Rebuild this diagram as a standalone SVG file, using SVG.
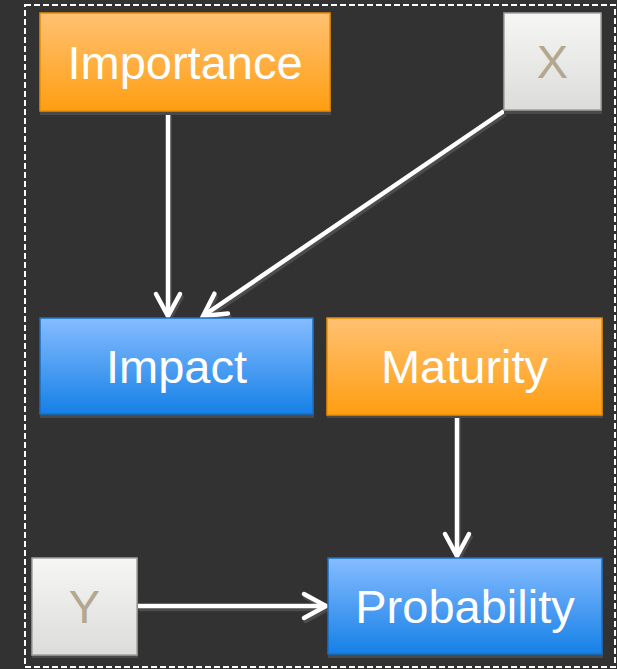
<svg xmlns="http://www.w3.org/2000/svg" width="617" height="669" viewBox="0 0 617 669">
<defs>
<linearGradient id="gOr" x1="0" y1="0" x2="0" y2="1"><stop offset="0" stop-color="#ffc172"/><stop offset="1" stop-color="#ff9e12"/></linearGradient>
<linearGradient id="gBl" x1="0" y1="0" x2="0" y2="1"><stop offset="0" stop-color="#86bcff"/><stop offset="1" stop-color="#1580e6"/></linearGradient>
<linearGradient id="gGr" x1="0" y1="0" x2="0" y2="1"><stop offset="0" stop-color="#f6f6f4"/><stop offset="1" stop-color="#dcdcda"/></linearGradient>
<marker id="mW" markerUnits="userSpaceOnUse" orient="auto" refX="0" refY="0" markerWidth="30" markerHeight="30" viewBox="-24 -15 30 30" overflow="visible"><path d="M-22,-12 L0,0 L-22,12" fill="none" stroke="#ffffff" stroke-width="4.5" stroke-linecap="round" stroke-linejoin="miter"/></marker>
<marker id="mS" markerUnits="userSpaceOnUse" orient="auto" refX="0" refY="0" markerWidth="30" markerHeight="30" viewBox="-24 -15 30 30" overflow="visible"><path d="M-22,-12 L0,0 L-22,12" fill="none" stroke="#4c4c4c" stroke-width="4.5" stroke-linecap="round" stroke-linejoin="miter"/></marker>
</defs>
<style>
.sh{fill:#4a4a4a}
.or{fill:url(#gOr);stroke:#ec8c00;stroke-width:1.5}
.bl{fill:url(#gBl);stroke:#1a6dc4;stroke-width:1.5}
.gr{fill:url(#gGr);stroke:#a2a2a0;stroke-width:1.5}
.t{font-family:"Liberation Sans",Arial,sans-serif;font-size:47px;text-anchor:middle;fill:#ffffff}
.tg{fill:#b3a78f}
.ln{fill:none;stroke:#ffffff;stroke-width:4.5;marker-end:url(#mW)}
.lns{fill:none;stroke:#4c4c4c;stroke-width:4.5;marker-end:url(#mS)}
</style>
<rect x="0" y="0" width="617" height="669" fill="#323232"/>
<rect x="25" y="5" width="590" height="662" fill="none" stroke="#ffffff" stroke-width="2" stroke-dasharray="6 3"/>
<g id="connectors">
<g transform="translate(1.5,3)">
<path class="lns" d="M168,111 L168,316"/>
<path class="lns" d="M504,111 L203,316"/>
<path class="lns" d="M457,415 L457,556"/>
<path class="lns" d="M137,606 L326,606"/>
</g>
<path class="ln" d="M168,111 L168,316"/>
<path class="ln" d="M504,111 L203,316"/>
<path class="ln" d="M457,415 L457,556"/>
<path class="ln" d="M137,606 L326,606"/>
</g>
<g id="importance"><rect class="sh" x="40" y="14" width="291" height="101"/><rect class="or" x="40" y="13" width="290" height="98"/><text class="t" x="185" y="79">Importance</text></g>
<g id="x"><rect class="sh" x="504" y="14" width="98" height="100"/><rect class="gr" x="504" y="13" width="97" height="97"/><text class="t tg" x="552.5" y="78">X</text></g>
<g id="impact"><rect class="sh" x="40" y="319" width="274" height="99"/><rect class="bl" x="40" y="318" width="273" height="96"/><text class="t" x="176.5" y="383">Impact</text></g>
<g id="maturity"><rect class="sh" x="327" y="319" width="276" height="99"/><rect class="or" x="327" y="318" width="275" height="97"/><text class="t" x="464.5" y="383">Maturity</text></g>
<g id="y"><rect class="sh" x="32" y="559" width="106" height="99"/><rect class="gr" x="32" y="558" width="105" height="97"/><text class="t tg" x="84.5" y="623">Y</text></g>
<g id="probability"><rect class="sh" x="328" y="559" width="275" height="99"/><rect class="bl" x="328" y="558" width="274" height="96"/><text class="t" x="465" y="623">Probability</text></g>
</svg>
